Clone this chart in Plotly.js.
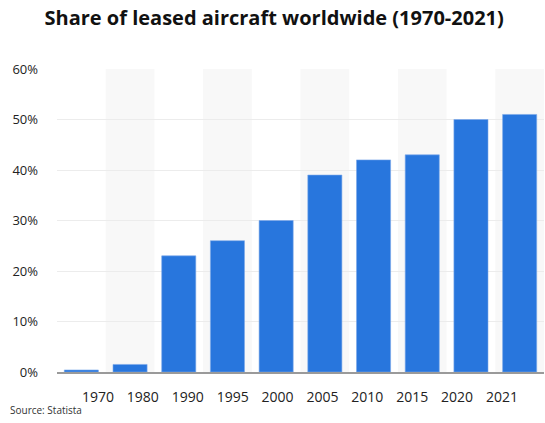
<!DOCTYPE html>
<html>
<head>
<meta charset="utf-8">
<script src="https://cdn.plot.ly/plotly-3.0.1.min.js"></script>
<style>html,body{margin:0;padding:0;background:#fff;}#chart{width:545px;height:423px;}</style>
</head>
<body>
<div id="chart"></div>
<script>
const years = ["1970","1980","1990","1995","2000","2005","2010","2015","2020","2021"];
const shares = [0.4, 1.5, 23, 26, 30, 39, 42, 43, 50, 51];
const yTicks = [0, 10, 20, 30, 40, 50, 60];
const yTickLabels = ["0%","10%","20%","30%","40%","50%","60%"];

const shapes = years.map((y, i) => i % 2 === 1 ? {
  type: 'rect', xref: 'x', yref: 'paper', layer: 'below',
  x0: i - 0.5, x1: i + 0.5, y0: 0, y1: 1,
  fillcolor: '#f8f8f8', line: {width: 0}
} : null).filter(Boolean);

const bars = {
  type: 'bar', x: years, y: shares,
  marker: {color: '#2876dd', line: {color: '#7aa8ea', width: 0.6}},
  hoverinfo: 'none'
};
const labelCarrier = {
  type: 'scatter', mode: 'none', x: years, y: shares, xaxis: 'x2', yaxis: 'y',
  hoverinfo: 'none', showlegend: false
};

const tickFont = {family: 'Open Sans, sans-serif', size: 14, color: '#222'};
const layout = {
  width: 545, height: 423,
  margin: {l: 57, r: 1, t: 69, b: 51},
  paper_bgcolor: '#fff', plot_bgcolor: 'rgba(0,0,0,0)',
  title: {text: '<b>Share of leased aircraft worldwide (1970-2021)</b>',
    font: {family: 'Open Sans, sans-serif', size: 20, color: '#111'},
    x: 0.503, xanchor: 'center', y: 0.957, yanchor: 'middle'},
  bargap: 0.3,
  xaxis: {type: 'category', showgrid: false, showline: true, linecolor: '#9a9a9a', linewidth: 2,
    ticks: '', showticklabels: false, fixedrange: true},
  xaxis2: {type: 'category', overlaying: 'x', anchor: 'y', side: 'bottom', range: [-0.913, 9.936],
    showgrid: false, showline: false, zeroline: false, ticks: '', tickfont: tickFont,
    ticklabelstandoff: 15, fixedrange: true},
  yaxis: {range: [0, 60], tickvals: yTicks, ticktext: yTickLabels, showgrid: true, gridcolor: '#ececec',
    gridwidth: 1, zeroline: false, showline: false, ticks: '',
    tickfont: {family: 'Open Sans, sans-serif', size: 13, color: '#222'}, ticklabelstandoff: 18,
    fixedrange: true},
  shapes: shapes,
  annotations: [{text: 'Source: Statista', xref: 'paper', yref: 'paper', x: -49/487, y: -0.125,
    xanchor: 'left', yanchor: 'middle', showarrow: false,
    font: {family: 'Open Sans, sans-serif', size: 10, color: '#333'}}],
  showlegend: false
};
Plotly.newPlot('chart', [bars, labelCarrier], layout, {displayModeBar: false, staticPlot: true});
</script>
</body>
</html>
